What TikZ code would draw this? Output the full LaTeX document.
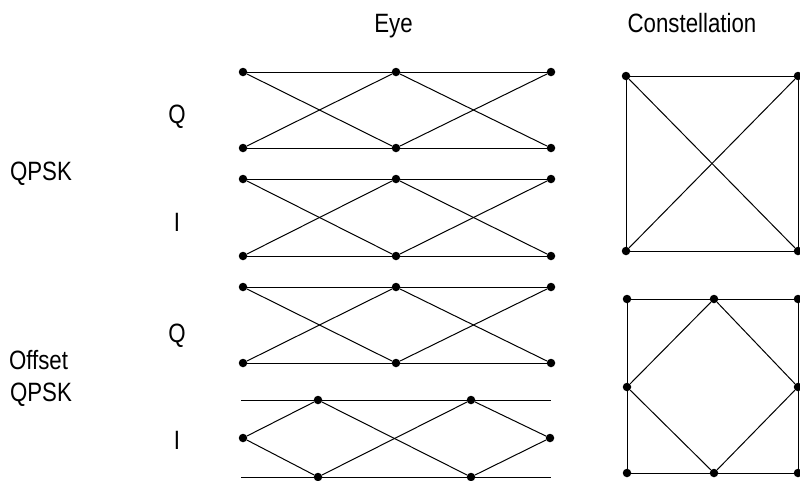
\documentclass[tikz,border=0pt]{standalone}
\usepackage{fontspec}
\setmainfont[FakeStretch=0.84]{Liberation Sans}
\begin{document}
\begin{tikzpicture}[x=1pt,y=-1pt,
  dot/.style={circle,fill=black,inner sep=0pt,minimum size=8.5pt},
  ln/.style={line width=1pt,black},
  lbl/.style={inner sep=0pt,text height=19pt,text depth=0pt,font=\fontsize{26.5}{30}\selectfont}]
\useasboundingbox (0,0) rectangle (800,480);
% titles and labels
\node[lbl] (teye) at (393.5,22.5) {Eye};
\node[lbl] (tcon) at (692,22.5) {Constellation};
\node[lbl] (q1) at (177,114) {Q};
\node[lbl] (i1) at (177,222) {I};
\node[lbl] (q2) at (177,333) {Q};
\node[lbl] (i2) at (177,440) {I};
\node[lbl] (qpsk) at (41,171) {QPSK};
\node[lbl] (off) at (38.5,360) {Offset};
\node[lbl] (oqpsk) at (41,392) {QPSK};
% eye blocks 1-3
\foreach \k/\yt/\yb in {a/72/148, b/179/256, c/287/363} {
  \node[dot] (\k tl) at (243,\yt) {};
  \node[dot] (\k tm) at (396,\yt) {};
  \node[dot] (\k tr) at (551,\yt) {};
  \node[dot] (\k bl) at (243,\yb) {};
  \node[dot] (\k bm) at (396,\yb) {};
  \node[dot] (\k br) at (551,\yb) {};
  \draw[ln] (\k tl) -- (\k tm) -- (\k tr);
  \draw[ln] (\k bl) -- (\k bm) -- (\k br);
  \draw[ln] (\k tl) -- (\k bm) -- (\k tr);
  \draw[ln] (\k bl) -- (\k tm) -- (\k br);
}
% eye block 4 (offset I)
\node[dot] (dl) at (243,438) {};
\node[dot] (dt1) at (318,400) {};
\node[dot] (db1) at (318,477) {};
\node[dot] (dt2) at (471,400) {};
\node[dot] (db2) at (471,477) {};
\node[dot] (dr) at (550,438) {};
\coordinate (dtls) at (241,400);
\coordinate (dtre) at (551,400);
\coordinate (dbls) at (241,477);
\coordinate (dbre) at (551,477);
\draw[ln] (dtls) -- (dtre);
\draw[ln] (dbls) -- (dbre);
\draw[ln] (dl) -- (dt1) -- (db2) -- (dr);
\draw[ln] (dl) -- (db1) -- (dt2) -- (dr);
% constellation 1
\node[dot] (c1a) at (626,76) {};
\node[dot] (c1b) at (798,76) {};
\node[dot] (c1c) at (798,251) {};
\node[dot] (c1d) at (626,251) {};
\draw[ln] (c1a) -- (c1b) -- (c1c) -- (c1d) -- (c1a);
\draw[ln] (c1a) -- (c1c);
\draw[ln] (c1b) -- (c1d);
% constellation 2
\node[dot] (c2a) at (627,299) {};
\node[dot] (c2b) at (714,299) {};
\node[dot] (c2c) at (798,299) {};
\node[dot] (c2d) at (798,387) {};
\node[dot] (c2e) at (798,473) {};
\node[dot] (c2f) at (714,473) {};
\node[dot] (c2g) at (627,473) {};
\node[dot] (c2h) at (627,387) {};
\draw[ln] (c2a) -- (c2b) -- (c2c) -- (c2d) -- (c2e) -- (c2f) -- (c2g) -- (c2h) -- (c2a);
\draw[ln] (c2b) -- (c2d) -- (c2f) -- (c2h) -- (c2b);
\end{tikzpicture}
\end{document}
